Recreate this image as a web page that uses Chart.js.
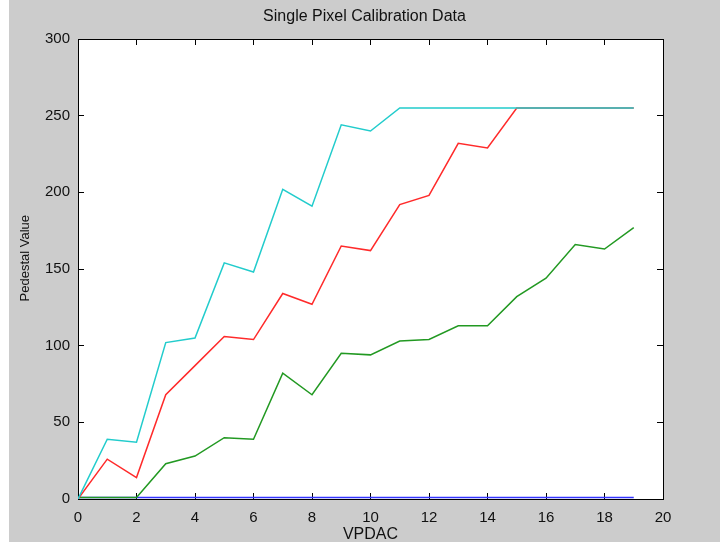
<!DOCTYPE html>
<html>
<head>
<meta charset="utf-8">
<script src="https://cdn.jsdelivr.net/npm/chart.js@4"></script>
<style>
  html, body { margin: 0; padding: 0; background: #ffffff; }
  #plot { position: absolute; left: 9px; top: 0; background: #cccccc; }
</style>
</head>
<body>
<canvas id="plot" width="711" height="542"></canvas>
<script>
// VPDAC settings (x) and pedestal readings (y) for each curve
const vpdac = [0, 1, 2, 3, 4, 5, 6, 7, 8, 9, 10, 11, 12, 13, 14, 15, 16, 17, 18, 19];
const cyanValues  = [0, 39, 37, 102, 105, 154, 148, 202, 191, 244, 240, 255, 255, 255, 255, 255, 255, 255, 255, 255];
const redValues   = [0, 26, 14, 68, 87, 106, 104, 134, 127, 165, 162, 192, 198, 232, 229, 255, 255, 255, 255, 255];
const greenValues = [1, 1, 1, 23, 28, 40, 39, 82, 68, 95, 94, 103, 104, 113, 113, 132, 144, 166, 163, 177];
const blueValues  = [1, 1, 1, 1, 1, 1, 1, 1, 1, 1, 1, 1, 1, 1, 1, 1, 1, 1, 1, 1];

const xTicks = [0, 2, 4, 6, 8, 10, 12, 14, 16, 18, 20];
const yTicks = [0, 50, 100, 150, 200, 250, 300];

Chart.defaults.font.family = "'Liberation Sans', Arial, sans-serif";
Chart.defaults.color = "#111";

const toPoints = vals => vals.map((v, i) => ({ x: vpdac[i], y: v }));

function line(color, vals) {
  return {
    data: toPoints(vals),
    borderColor: color,
    borderWidth: 1.5,
    pointRadius: 0,
    tension: 0,
    fill: false
  };
}

// white plot area on the grey figure
const whiteArea = {
  id: "whiteArea",
  beforeDraw(chart) {
    const { ctx, chartArea: a } = chart;
    ctx.save();
    ctx.fillStyle = "#ffffff";
    ctx.fillRect(a.left, a.top, a.right - a.left, a.bottom - a.top);
    ctx.restore();
  }
};

const inwardGrid = {
  drawOnChartArea: false,
  drawTicks: true,
  tickLength: -6,
  color: "#000",
  lineWidth: 1
};
const blackBorder = { display: true, color: "#000", width: 1 };

function fixedTicks(list) {
  return scale => { scale.ticks = list.map(v => ({ value: v })); };
}

new Chart(document.getElementById("plot"), {
  type: "line",
  data: {
    datasets: [
      line("#22cccc", cyanValues),
      line("#ff2a2a", redValues),
      line("#229922", greenValues),
      line("#3333ff", blueValues)
    ]
  },
  options: {
    responsive: false,
    animation: false,
    layout: { padding: 0 },
    plugins: {
      legend: { display: false },
      tooltip: { enabled: false },
      title: {
        display: true,
        text: "Single Pixel Calibration Data",
        color: "#111",
        font: { size: 16, weight: "normal" },
        padding: { top: 7.4, bottom: 12.4 }
      }
    },
    scales: {
      x: {
        type: "linear",
        min: 0, max: 20,
        afterBuildTicks: fixedTicks(xTicks),
        afterFit: s => { s.height = 43; },
        grid: inwardGrid,
        border: blackBorder,
        ticks: { padding: 15.5, font: { size: 15 }, maxRotation: 0 },
        title: {
          display: true,
          text: "VPDAC",
          font: { size: 16, lineHeight: 0.9 },
          padding: 0
        }
      },
      x2: {
        type: "linear",
        position: "top",
        min: 0, max: 20,
        afterBuildTicks: fixedTicks(xTicks),
        afterFit: s => { s.height = 0; },
        grid: inwardGrid,
        border: blackBorder,
        ticks: { display: false }
      },
      y: {
        min: 0, max: 300,
        afterBuildTicks: fixedTicks(yTicks),
        afterFit: s => { s.width = 69; },
        grid: inwardGrid,
        border: blackBorder,
        ticks: { padding: 14, font: { size: 15 } },
        title: {
          display: true,
          // leading spaces nudge the label a little above centre, as in the original
          text: "\u00a0\u00a0\u00a0\u00a0\u00a0\u00a0Pedestal Value",
          font: { size: 13, lineHeight: 1.2 },
          padding: { top: 8.2, bottom: 0 }
        }
      },
      y2: {
        position: "right",
        min: 0, max: 300,
        afterBuildTicks: fixedTicks(yTicks),
        afterFit: s => { s.width = 57; },
        grid: inwardGrid,
        border: blackBorder,
        ticks: { display: false }
      }
    }
  },
  plugins: [whiteArea]
});
</script>
</body>
</html>
